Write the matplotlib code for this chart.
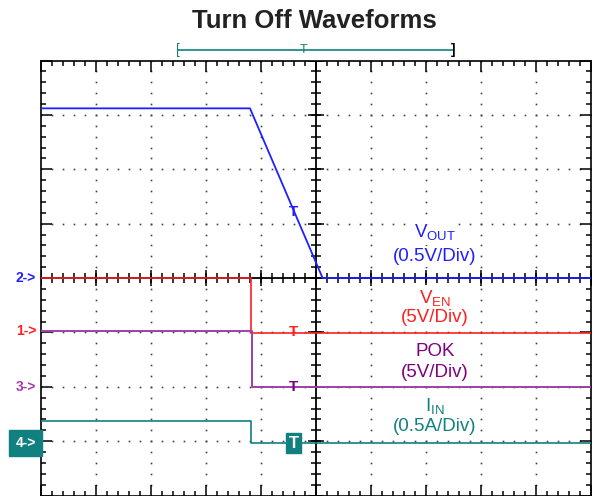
import matplotlib
matplotlib.use("Agg")
import matplotlib.pyplot as plt
import numpy as np

plt.rcParams['font.family'] = ['Liberation Sans', 'DejaVu Sans']
plt.rcParams['mathtext.default'] = 'regular'

# traces, in scope divisions (x: time div, y: vertical div)
t_vout = [-5.0, -1.20, 0.12, 5.0]
v_vout = [3.12, 3.12, 0.0, 0.0]
t_ven = [-5.0, -1.19, -1.19, 5.0]
v_ven = [0.0, 0.0, -1.01, -1.01]
t_pok = [-5.0, -1.17, -1.17, 5.0]
v_pok = [-0.97, -0.97, -2.01, -2.01]
t_iin = [-5.0, -1.19, -1.19, 5.0]
v_iin = [-2.63, -2.63, -3.04, -3.04]

# channel ground markers on the left
ch_names = ['2->', '1->', '3->', '4->']
ch_levels = [0.0, -0.97, -2.01, -3.03]

# trigger "T" markers (x, y) per trace
trig_x = -0.40
trig_y = {'vout': 1.22, 'ven': -1.0, 'pok': -2.0, 'iin': -3.04}

BLUE = '#1f1fff'
RED = '#ff1f1f'
PURPLE = '#a040a8'
PURPLE_TXT = '#800080'
TEAL = '#118080'

fig = plt.figure(figsize=(5.98, 4.96), dpi=100)
ax = fig.add_axes([41 / 598, 0.5 / 496, 550 / 598, 435 / 496])
ax.set_xlim(-5, 5)
ax.set_ylim(-4, 4)

# frame ticks like a scope graticule
ax.set_xticks(np.arange(-5, 6, 1))
ax.set_xticks(np.arange(-5, 5.01, 0.2), minor=True)
ax.set_yticks(np.arange(-4, 5, 1))
ax.set_yticks(np.arange(-4, 4.01, 0.2), minor=True)
ax.tick_params(which='both', direction='in', top=True, right=True,
               labelbottom=False, labelleft=False, width=1.1, color='black')
ax.tick_params(which='major', length=8)
ax.tick_params(which='minor', length=3.5)
for s in ax.spines.values():
    s.set_linewidth(1.2)

# dotted grid
fine_x = np.arange(-5, 5.01, 0.2)
fine_y = np.arange(-4, 4.01, 0.2)
for gx in range(-4, 5):
    if gx != 0:
        ax.plot(np.full_like(fine_y, gx), fine_y, ls='none', marker='s',
                ms=1.2, mew=0, color='#444444', zorder=1)
for gy in range(-3, 4):
    if gy != 0:
        ax.plot(fine_x, np.full_like(fine_x, gy), ls='none', marker='s',
                ms=1.2, mew=0, color='#444444', zorder=1)

# center axes with ticks
ax.axhline(0, color='black', lw=1.3, zorder=2)
ax.axvline(0, color='black', lw=1.3, zorder=2)
ax.plot(fine_x, np.zeros_like(fine_x), ls='none', marker='|', ms=7, mew=1.1, color='black', zorder=2)
ax.plot(np.arange(-5, 6), np.zeros(11), ls='none', marker='|', ms=11, mew=1.1, color='black', zorder=2)
ax.plot(np.zeros_like(fine_y), fine_y, ls='none', marker='_', ms=7, mew=1.1, color='black', zorder=2)
ax.plot(np.zeros(9), np.arange(-4, 5), ls='none', marker='_', ms=11, mew=1.1, color='black', zorder=2)

# traces
ax.plot(t_ven, v_ven, color=RED, lw=1.2, zorder=3)
ax.plot(t_pok, v_pok, color=PURPLE, lw=1.4, zorder=3)
ax.plot(t_iin, v_iin, color=TEAL, lw=1.2, zorder=3)
ax.plot(t_vout, v_vout, color=BLUE, lw=1.3, zorder=4)

# trigger markers
ax.text(trig_x, trig_y['vout'], 'T', color=BLUE, fontsize=11, fontweight='bold', ha='center', va='center', zorder=5)
ax.text(trig_x, trig_y['ven'], 'T', color=RED, fontsize=11, fontweight='bold', ha='center', va='center', zorder=5)
ax.text(trig_x, trig_y['pok'], 'T', color=PURPLE_TXT, fontsize=11, fontweight='bold', ha='center', va='center', zorder=5)
ax.text(trig_x, trig_y['iin'], 'T', color='white', fontsize=12, fontweight='bold', ha='center', va='center', zorder=5,
        bbox=dict(boxstyle='square,pad=0.15', fc=TEAL, ec=TEAL))

# channel labels (white background hides the dotted grid)
lab_x = 2.16
labels = [(0.84, 'V$_{OUT}$', BLUE), (0.40, '(0.5V/Div)', BLUE),
          (-0.36, 'V$_{EN}$', RED), (-0.73, '(5V/Div)', RED),
          (-1.35, 'POK', PURPLE_TXT), (-1.74, '(5V/Div)', PURPLE_TXT),
          (-2.36, 'I$_{IN}$', TEAL), (-2.73, '(0.5A/Div)', TEAL)]
for ly, txt, c in labels:
    ax.text(lab_x, ly, txt, color=c, fontsize=13.5, ha='center', va='center', zorder=2.5,
            bbox=dict(boxstyle='square,pad=0.12', fc='white', ec='none'))

# ground markers
ch_colors = [BLUE, RED, PURPLE, 'white']
for name, lvl, c in zip(ch_names, ch_levels, ch_colors):
    kw = {}
    if c == 'white':
        kw['bbox'] = dict(boxstyle='square,pad=0.45', fc=TEAL, ec=TEAL)
    ax.text(-5.09, lvl, name, color=c, fontsize=10, fontweight='bold', ha='right', va='center',
            clip_on=False, **kw)

# timebase bracket above the graticule
ax.plot([-2.51, 2.49], [4.19, 4.19], color=TEAL, lw=1.2, clip_on=False)
ax.text(-2.51, 4.19, '[', color=TEAL, fontsize=10, ha='center', va='center', clip_on=False)
ax.text(2.49, 4.19, ']', color='black', fontsize=10, fontweight='bold', ha='center', va='center', clip_on=False)
ax.text(-0.22, 4.19, 'T', color=TEAL, fontsize=9, ha='center', va='center', clip_on=False)

fig.text(314 / 598, 1 - 21 / 496, 'Turn Off Waveforms', fontsize=18.5, fontweight='bold',
         color='#222222', ha='center', va='center')

fig.savefig('out.png', dpi=100)
